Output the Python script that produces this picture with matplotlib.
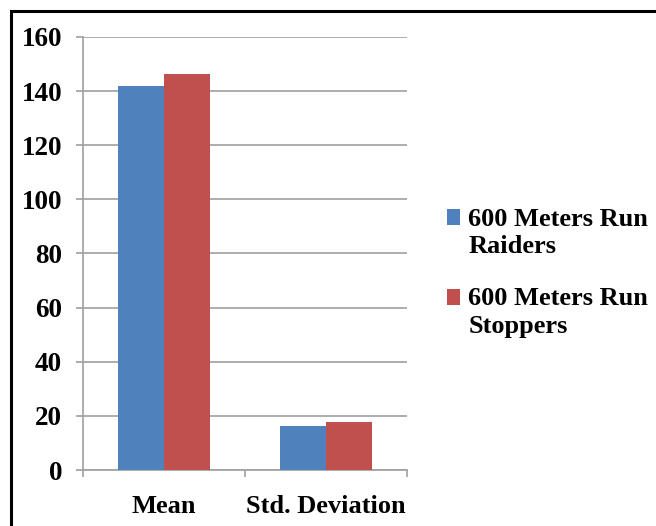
import numpy as np
import matplotlib.pyplot as plt
from matplotlib.patches import Rectangle

categories = ["Mean", "Std. Deviation"]
series_names = ["600 Meters Run\nRaiders", "600 Meters Run\nStoppers"]
raiders = [141.8, 16.3]
stoppers = [146.2, 17.7]
colors = ["#4F81BD", "#C0504D"]

plt.rcParams['font.family'] = ['Liberation Serif', 'DejaVu Serif']
plt.rcParams['font.weight'] = 'bold'

fs = 19
fig = plt.figure(figsize=(6.56, 5.26), dpi=100)
ax = fig.add_axes([83 / 656, 1 - 470 / 526, 324 / 656, 433 / 526])

# frame around the whole chart (bottom and right run off the image)
fig.patches.append(Rectangle((11 / 656, -0.2), 1.2, 0.2 + (526 - 11) / 526,
                             transform=fig.transFigure, fill=False,
                             edgecolor='black', linewidth=2.2))

x = np.arange(len(categories))
w = 0.285
ax.bar(x - w / 2, raiders, w, color=colors[0], label=series_names[0], zorder=3)
ax.bar(x + w / 2, stoppers, w, color=colors[1], label=series_names[1], zorder=3)

ax.set_xlim(-0.5, 1.5)
ax.set_ylim(0, 160)
ax.set_yticks(np.arange(0, 161, 20))
ax.yaxis.grid(True, color='#A0A0A0', linewidth=1.2, zorder=0)
ax.set_axisbelow(True)

ax.set_xticks(x)
ax.set_xticklabels(categories, fontsize=fs, fontweight='bold')
ax.set_xticks([-0.5, 0.5, 1.5], minor=True)
ax.tick_params(axis='x', which='major', length=0, pad=18)
ax.tick_params(axis='x', which='minor', length=5, color='#A0A0A0', width=1.2)
ax.tick_params(axis='y', labelsize=fs + 0.5, length=5, color='#A0A0A0', width=1.2, pad=10)
for lbl in ax.get_yticklabels():
    lbl.set_fontweight('bold')

for s in ['top', 'right']:
    ax.spines[s].set_visible(False)
for s in ['left', 'bottom']:
    ax.spines[s].set_color('#A0A0A0')
    ax.spines[s].set_linewidth(1.2)

leg = ax.legend(loc='center left', bbox_to_anchor=(1.1235, 0.455), frameon=False,
                prop={'size': fs, 'weight': 'bold'}, handlelength=0.5,
                handleheight=0.53, handletextpad=0.3, labelspacing=1.1,
                borderpad=0, borderaxespad=0)
for t in leg.get_texts():
    t.set_linespacing(1.27)
# put each colour square beside the first line of its label
for h in leg.legend_handles:
    h.set_y(h.get_y() + 0.6 * fs)

fig.savefig("out.png", dpi=100)
